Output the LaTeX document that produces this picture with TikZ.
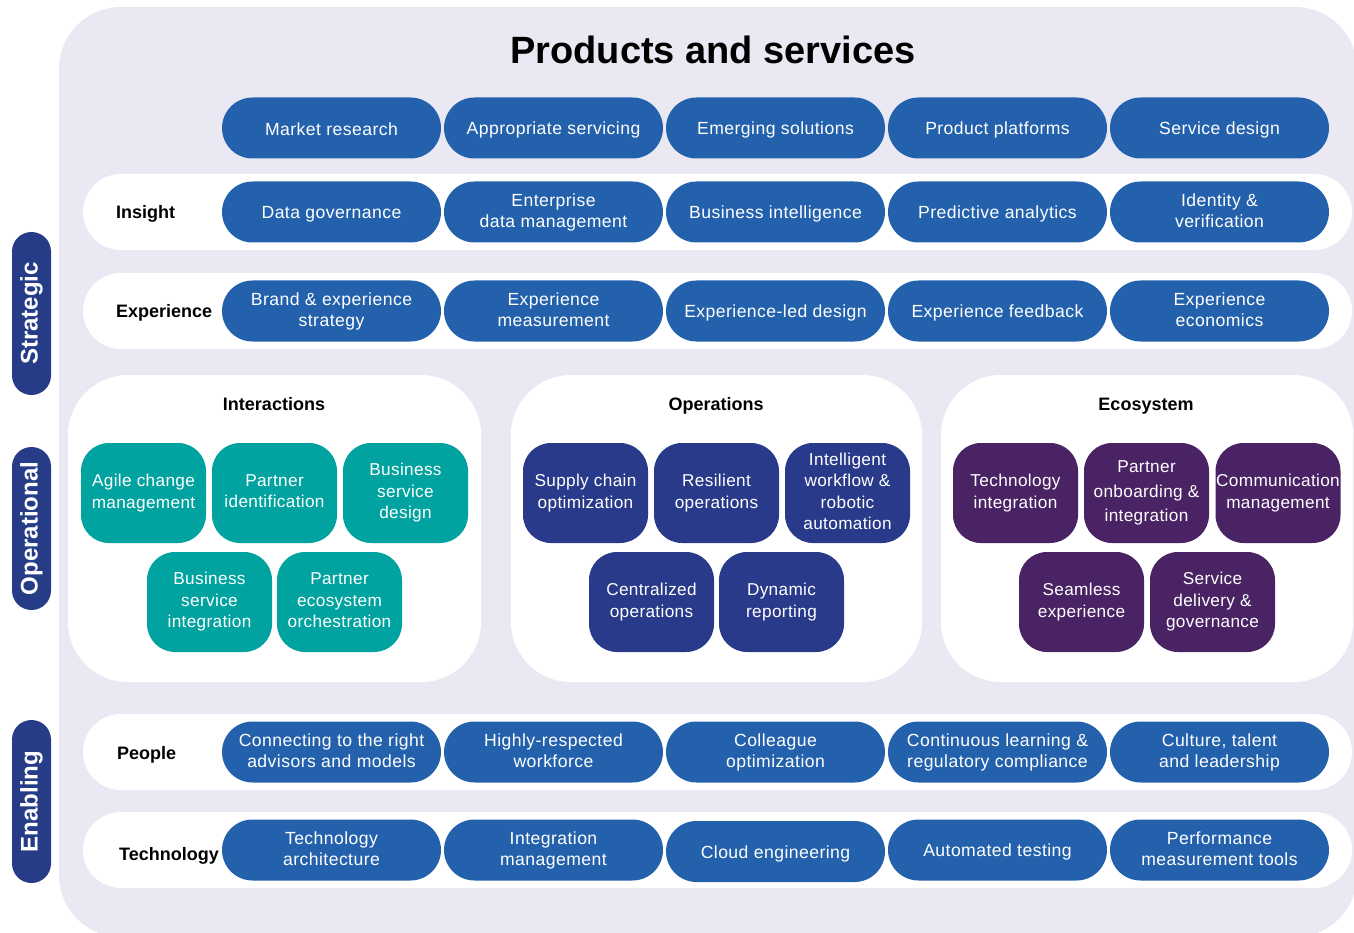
\documentclass[tikz,border=0pt]{standalone}
\usepackage{fontspec}
\setmainfont{Liberation Sans}
\newfontfamily\lightsans[LetterSpace=2.5]{Liberation Sans}
\newfontfamily\boxsans[LetterSpace=2.0]{Liberation Sans}
\newcommand{\mystrut}{\rule[-0.2em]{0pt}{1.2em}}
\definecolor{bglav}{HTML}{EAE8F3}
\definecolor{pillblue}{HTML}{2461AC}
\definecolor{labnavy}{HTML}{263C87}
\definecolor{opsnavy}{HTML}{283A89}
\definecolor{teal}{HTML}{00A39F}
\definecolor{ecopurple}{HTML}{4A2364}
\tikzset{
  pill/.style={rectangle, rounded corners=30.5pt, fill=pillblue, minimum width=219pt, minimum height=61pt, inner sep=0pt, text=white, align=center, font=\lightsans\fontsize{17.6}{21}\selectfont, execute at begin node=\mystrut, execute at end node=\mystrut},
  box/.style={rectangle, rounded corners=28pt, minimum width=125pt, minimum height=100pt, inner sep=0pt, text=white, align=center, font=\boxsans\fontsize{17.2}{21.5}\selectfont, execute at begin node=\mystrut, execute at end node=\mystrut},
  tealbox/.style={box, fill=teal},
  opsbox/.style={box, fill=opsnavy},
  ecobox/.style={box, fill=ecopurple},
  band/.style={fill=white, rounded corners=38pt},
  section/.style={fill=white, rounded corners=60pt},
  rowlabel/.style={anchor=base west, inner sep=0pt, font=\bfseries\fontsize{18}{21}\selectfont},
  sectitle/.style={anchor=base, inner sep=0pt, font=\bfseries\fontsize{18}{21}\selectfont},
  sidelabel/.style={rectangle, rounded corners=19.5pt, fill=labnavy, minimum width=163pt, minimum height=39pt, inner sep=0pt, rotate=90, text=white, font=\bfseries\fontsize{24}{28}\selectfont}
}
\begin{document}
\begin{tikzpicture}[x=1pt,y=-1pt]
\useasboundingbox (0,0) rectangle (1354,933);
\begin{scope}
\clip (0,0) rectangle (1354,933);
\fill[bglav, rounded corners=62pt] (59,7) rectangle (1357,937);
\end{scope}
\node[anchor=base, inner sep=0pt, font=\bfseries\fontsize{38}{42}\selectfont] (title) at (713,64) {Products and services};

% side labels
\node[sidelabel] (strategic) at (31.5,313.5) {Strategic};
\node[sidelabel] (operational) at (31.5,528.5) {Operational};
\node[sidelabel] (enabling) at (31.5,801.5) {Enabling};

% bands
\fill[band] (83,174) rectangle (1352,250);
\fill[band] (83,273) rectangle (1352,349);
\fill[band] (83,714) rectangle (1352,790);
\fill[band] (83,812) rectangle (1352,888);

\node[rowlabel] (insight) at (116,219) {Insight};
\node[rowlabel] (experience) at (116,317) {Experience};
\node[rowlabel] (people) at (117,759) {People};
\node[rowlabel] (technology) at (119,860) {Technology};

% row 1
\node[pill] (a1) at (331.5,128) {Market research};
\node[pill] (a2) at (553.5,128) {Appropriate servicing};
\node[pill] (a3) at (775.5,128) {Emerging solutions};
\node[pill] (a4) at (997.5,128) {Product platforms};
\node[pill] (a5) at (1219.5,128) {Service design};
% insight
\node[pill] (b1) at (331.5,212) {Data governance};
\node[pill] (b2) at (553.5,212) {Enterprise\\data management};
\node[pill] (b3) at (775.5,212) {Business intelligence};
\node[pill] (b4) at (997.5,212) {Predictive analytics};
\node[pill] (b5) at (1219.5,212) {Identity \&\\verification};
% experience
\node[pill] (c1) at (331.5,311) {Brand \& experience\\strategy};
\node[pill] (c2) at (553.5,311) {Experience\\measurement};
\node[pill] (c3) at (775.5,311) {Experience-led design};
\node[pill] (c4) at (997.5,311) {Experience feedback};
\node[pill] (c5) at (1219.5,311) {Experience\\economics};

% sections
\fill[section] (68,375) rectangle (481,682);
\fill[section] (511,375) rectangle (922,682);
\fill[section] (941,375) rectangle (1353,682);
\node[sectitle] (interactions) at (274,410) {Interactions};
\node[sectitle] (operations) at (716,410) {Operations};
\node[sectitle] (ecosystem) at (1146,410) {Ecosystem};

\node[tealbox] (i1) at (143.5,493) {Agile change\\management};
\node[tealbox] (i2) at (274.5,493) {Partner\\identification};
\node[tealbox] (i3) at (405.5,493) {Business\\service\\design};
\node[tealbox] (i4) at (209.5,602) {Business\\service\\integration};
\node[tealbox] (i5) at (339.5,602) {Partner\\ecosystem\\orchestration};

\node[opsbox] (o1) at (585.5,493) {Supply chain\\optimization};
\node[opsbox] (o2) at (716.5,493) {Resilient\\operations};
\node[opsbox] (o3) at (847.5,493) {Intelligent\\workflow \&\\robotic\\automation};
\node[opsbox] (o4) at (651.5,602) {Centralized\\operations};
\node[opsbox] (o5) at (781.5,602) {Dynamic\\reporting};

\node[ecobox] (e1) at (1015.5,493) {Technology\\integration};
\node[ecobox, font=\boxsans\fontsize{17.2}{24.5}\selectfont] (e2) at (1146.5,493) {Partner\\onboarding \&\\integration};
\node[ecobox] (e3) at (1278,493) {Communication\\management};
\node[ecobox] (e4) at (1081.5,602) {Seamless\\experience};
\node[ecobox] (e5) at (1212.5,602) {Service\\delivery \&\\governance};

% people
\node[pill] (d1) at (331.5,752) {Connecting to the right\\advisors and models};
\node[pill] (d2) at (553.5,752) {Highly-respected\\workforce};
\node[pill] (d3) at (775.5,752) {Colleague\\optimization};
\node[pill] (d4) at (997.5,752) {Continuous learning \&\\regulatory compliance};
\node[pill] (d5) at (1219.5,752) {Culture, talent\\and leadership};
% technology
\node[pill] (f1) at (331.5,850) {Technology\\architecture};
\node[pill] (f2) at (553.5,850) {Integration\\management};
\node[pill] (f3) at (775.5,851.5) {Cloud engineering};
\node[pill] (f4) at (997.5,850) {Automated testing};
\node[pill] (f5) at (1219.5,850) {Performance\\measurement tools};
\end{tikzpicture}
\end{document}
